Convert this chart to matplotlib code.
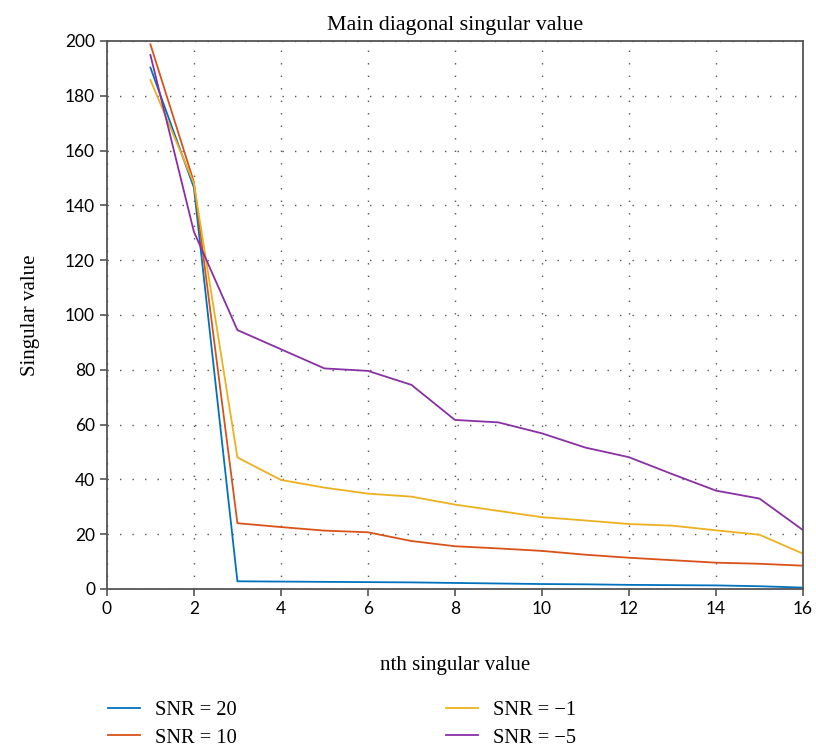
import matplotlib.pyplot as plt
import numpy as np

n = np.arange(1, 17)

## singular values
snr20 = [190.3, 146.5, 2.8, 2.7, 2.6, 2.5, 2.4, 2.2, 2.0, 1.8, 1.7, 1.5, 1.4, 1.3, 1.0, 0.5]
snr10 = [198.8, 148.5, 24.0, 22.6, 21.3, 20.7, 17.5, 15.6, 14.8, 13.9, 12.5, 11.4, 10.5, 9.6, 9.2, 8.5]
snr_m1 = [185.8, 148.0, 48.0, 39.8, 37.0, 34.8, 33.7, 30.8, 28.5, 26.2, 25.0, 23.7, 23.1, 21.4, 19.8, 12.9]
snr_m5 = [194.9, 130.4, 94.5, 87.5, 80.5, 79.6, 74.5, 61.7, 60.8, 56.8, 51.6, 48.1, 41.9, 35.9, 33.0, 21.5]

labels = ['SNR = 20', 'SNR = 10', 'SNR = \u22121', 'SNR = \u22125']
colors = ['#0072BD', '#D95319', '#EDB120', '#8A2FA6']

serif = ['Liberation Serif', 'DejaVu Serif']
sans = ['Lato', 'DejaVu Sans']

fig = plt.figure(figsize=(8.16, 7.48), dpi=100)
ax = fig.add_axes([0.131, 0.2126, 0.853, 0.7326])

for ys, lab, c in zip([snr20, snr10, snr_m1, snr_m5], labels, colors):
    ax.plot(n, ys, color=c, lw=1.3, label=lab)

ax.set_xlim(0, 16)
ax.set_ylim(0, 200)
ax.set_xticks(np.arange(0, 17, 2))
ax.set_yticks(np.arange(0, 201, 20))
ax.grid(True, color='#555555', linestyle=(0, (1, 8)), linewidth=1.0)

for s in ax.spines.values():
    s.set_color('#555555')
    s.set_linewidth(1.3)
ax.tick_params(direction='out', length=5, width=1.2, color='#555555', labelsize=12.5)
for t in ax.get_xticklabels() + ax.get_yticklabels():
    t.set_family(sans)

## labels
ax.set_title('Main diagonal singular value', family=serif, fontsize=15.8, pad=8)
ax.set_xlabel('nth singular value', family=serif, fontsize=15, labelpad=28)
ax.set_ylabel('Singular value', family=serif, fontsize=15, labelpad=18)

fig.legend(loc='upper left', bbox_to_anchor=(0.1103, 0.0882), ncol=2, frameon=False,
           prop={'family': serif, 'size': 14.7}, columnspacing=10.25, handlelength=1.57,
           handletextpad=0.73, labelspacing=0.42)

fig.savefig('out.png', dpi=100)
